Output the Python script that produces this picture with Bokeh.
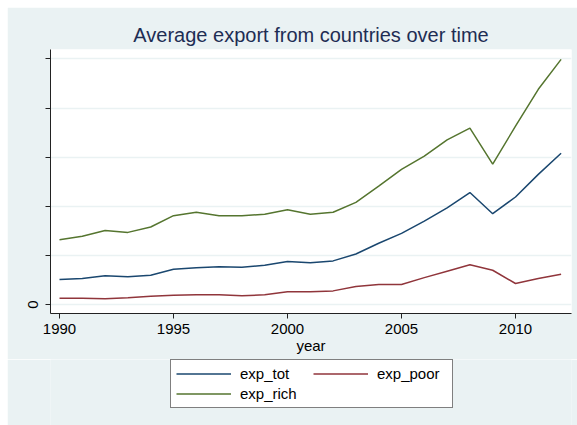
from bokeh.plotting import figure
from bokeh.models import (ColumnDataSource, Legend, LegendItem, FixedTicker,
                          Range1d, Spacer)
from bokeh.layouts import column, row
from bokeh.embed import file_html
from bokeh.resources import INLINE

years = list(range(1990, 2013))
exp_tot = [0.51, 0.53, 0.59, 0.57, 0.60, 0.72, 0.75, 0.77, 0.76, 0.80, 0.88, 0.85,
           0.89, 1.03, 1.25, 1.45, 1.70, 1.97, 2.28, 1.85, 2.19, 2.65, 3.08]
exp_poor = [0.13, 0.13, 0.12, 0.14, 0.17, 0.19, 0.20, 0.20, 0.18, 0.20, 0.26, 0.26,
            0.28, 0.37, 0.41, 0.41, 0.55, 0.68, 0.81, 0.70, 0.43, 0.53, 0.62]
exp_rich = [1.32, 1.39, 1.51, 1.47, 1.58, 1.81, 1.88, 1.81, 1.81, 1.84, 1.93, 1.84,
            1.88, 2.08, 2.41, 2.75, 3.02, 3.35, 3.59, 2.86, 3.63, 4.38, 4.99]
series_names = ["exp_tot", "exp_poor", "exp_rich"]
x_ticks = [1990, 1995, 2000, 2005, 2010]
y_ticks = [0, 1, 2, 3, 4, 5]
y_tick_labels = ["0", "", "", "", "", ""]
title_text = "Average export from countries over time"
x_label = "year"

colors = ["#1A476F", "#90353B", "#55752F"]
BG = "#EAF2F3"
FONT = "Liberation Sans"

source = ColumnDataSource(dict(year=years, exp_tot=exp_tot, exp_poor=exp_poor,
                               exp_rich=exp_rich))

# ---- main chart ----
p = figure(width=570, height=352, output_backend="svg", toolbar_location=None,
           x_range=Range1d(1989.605, 2012.456), y_range=Range1d(-0.18, 5.19),
           min_border_left=43, min_border_right=6, min_border_top=42,
           min_border_bottom=46)

p.background_fill_color = "white"
p.border_fill_color = BG
p.outline_line_color = None

p.title.text = title_text
p.title.align = "center"
p.title.text_font = FONT
p.title.text_font_size = "20px"
p.title.text_font_style = "normal"
p.title.text_color = "#1E2D53"
p.title.standoff = 8

for name, c in zip(series_names, colors):
    p.line("year", name, source=source, line_color=c, line_width=1.5)

p.xaxis.ticker = FixedTicker(ticks=x_ticks)
p.yaxis.ticker = FixedTicker(ticks=y_ticks)
p.yaxis.major_label_overrides = {t: l for t, l in zip(y_ticks, y_tick_labels)}
p.yaxis.major_label_orientation = "vertical"
p.xaxis.axis_label = x_label
for ax in (p.xaxis[0], p.yaxis[0]):
    ax.axis_line_color = "#222222"
    ax.axis_line_width = 1
    ax.major_tick_line_color = "#222222"
    ax.major_tick_out = 5
    ax.major_tick_in = 0
    ax.minor_tick_line_color = None
    ax.major_label_text_font = FONT
    ax.major_label_text_font_size = "15px"
    ax.major_label_text_color = "black"
    ax.axis_label_text_font = FONT
    ax.axis_label_text_font_size = "15px"
    ax.axis_label_text_font_style = "normal"
    ax.axis_label_text_color = "black"
p.xaxis.major_label_standoff = 5
p.xaxis.axis_label_standoff = 0
p.yaxis.major_label_standoff = 7

p.xgrid.visible = False
p.ygrid.ticker = FixedTicker(ticks=y_ticks)
p.ygrid.grid_line_color = BG
p.ygrid.grid_line_width = 1.5

# ---- legend strip (same series, drawn out of view; only the legend shows) ----
lg = figure(width=570, height=66, output_backend="svg", toolbar_location=None,
            x_range=Range1d(1989.605, 2012.456), y_range=Range1d(100, 101),
            min_border=0)
lg.background_fill_color = BG
lg.border_fill_color = BG
lg.outline_line_color = None
lg.axis.visible = False
lg.grid.visible = False
leg_renderers = []
for name, c in zip(series_names, colors):
    leg_renderers.append(lg.line("year", name, source=source, line_color=c,
                                 line_width=1.5))

legend = Legend(items=[LegendItem(label=n, renderers=[r])
                       for n, r in zip(series_names, leg_renderers)],
                location=(120, 17), orientation="horizontal", ncols=2)
legend.label_text_font = FONT
legend.label_text_font_size = "15px"
legend.label_text_color = "black"
legend.glyph_width = 55
legend.glyph_height = 17
legend.label_height = 17
legend.label_width = 70
legend.label_standoff = 9
legend.padding = 5
legend.spacing = 3
legend.margin = 0
legend.border_line_color = "black"
legend.border_line_width = 1
legend.background_fill_color = "white"
legend.background_fill_alpha = 1
lg.add_layout(legend, "center")

layout = column(Spacer(height=7), row(Spacer(width=7), column(p, lg)))
open("out.html", "w").write(file_html(layout, INLINE))
